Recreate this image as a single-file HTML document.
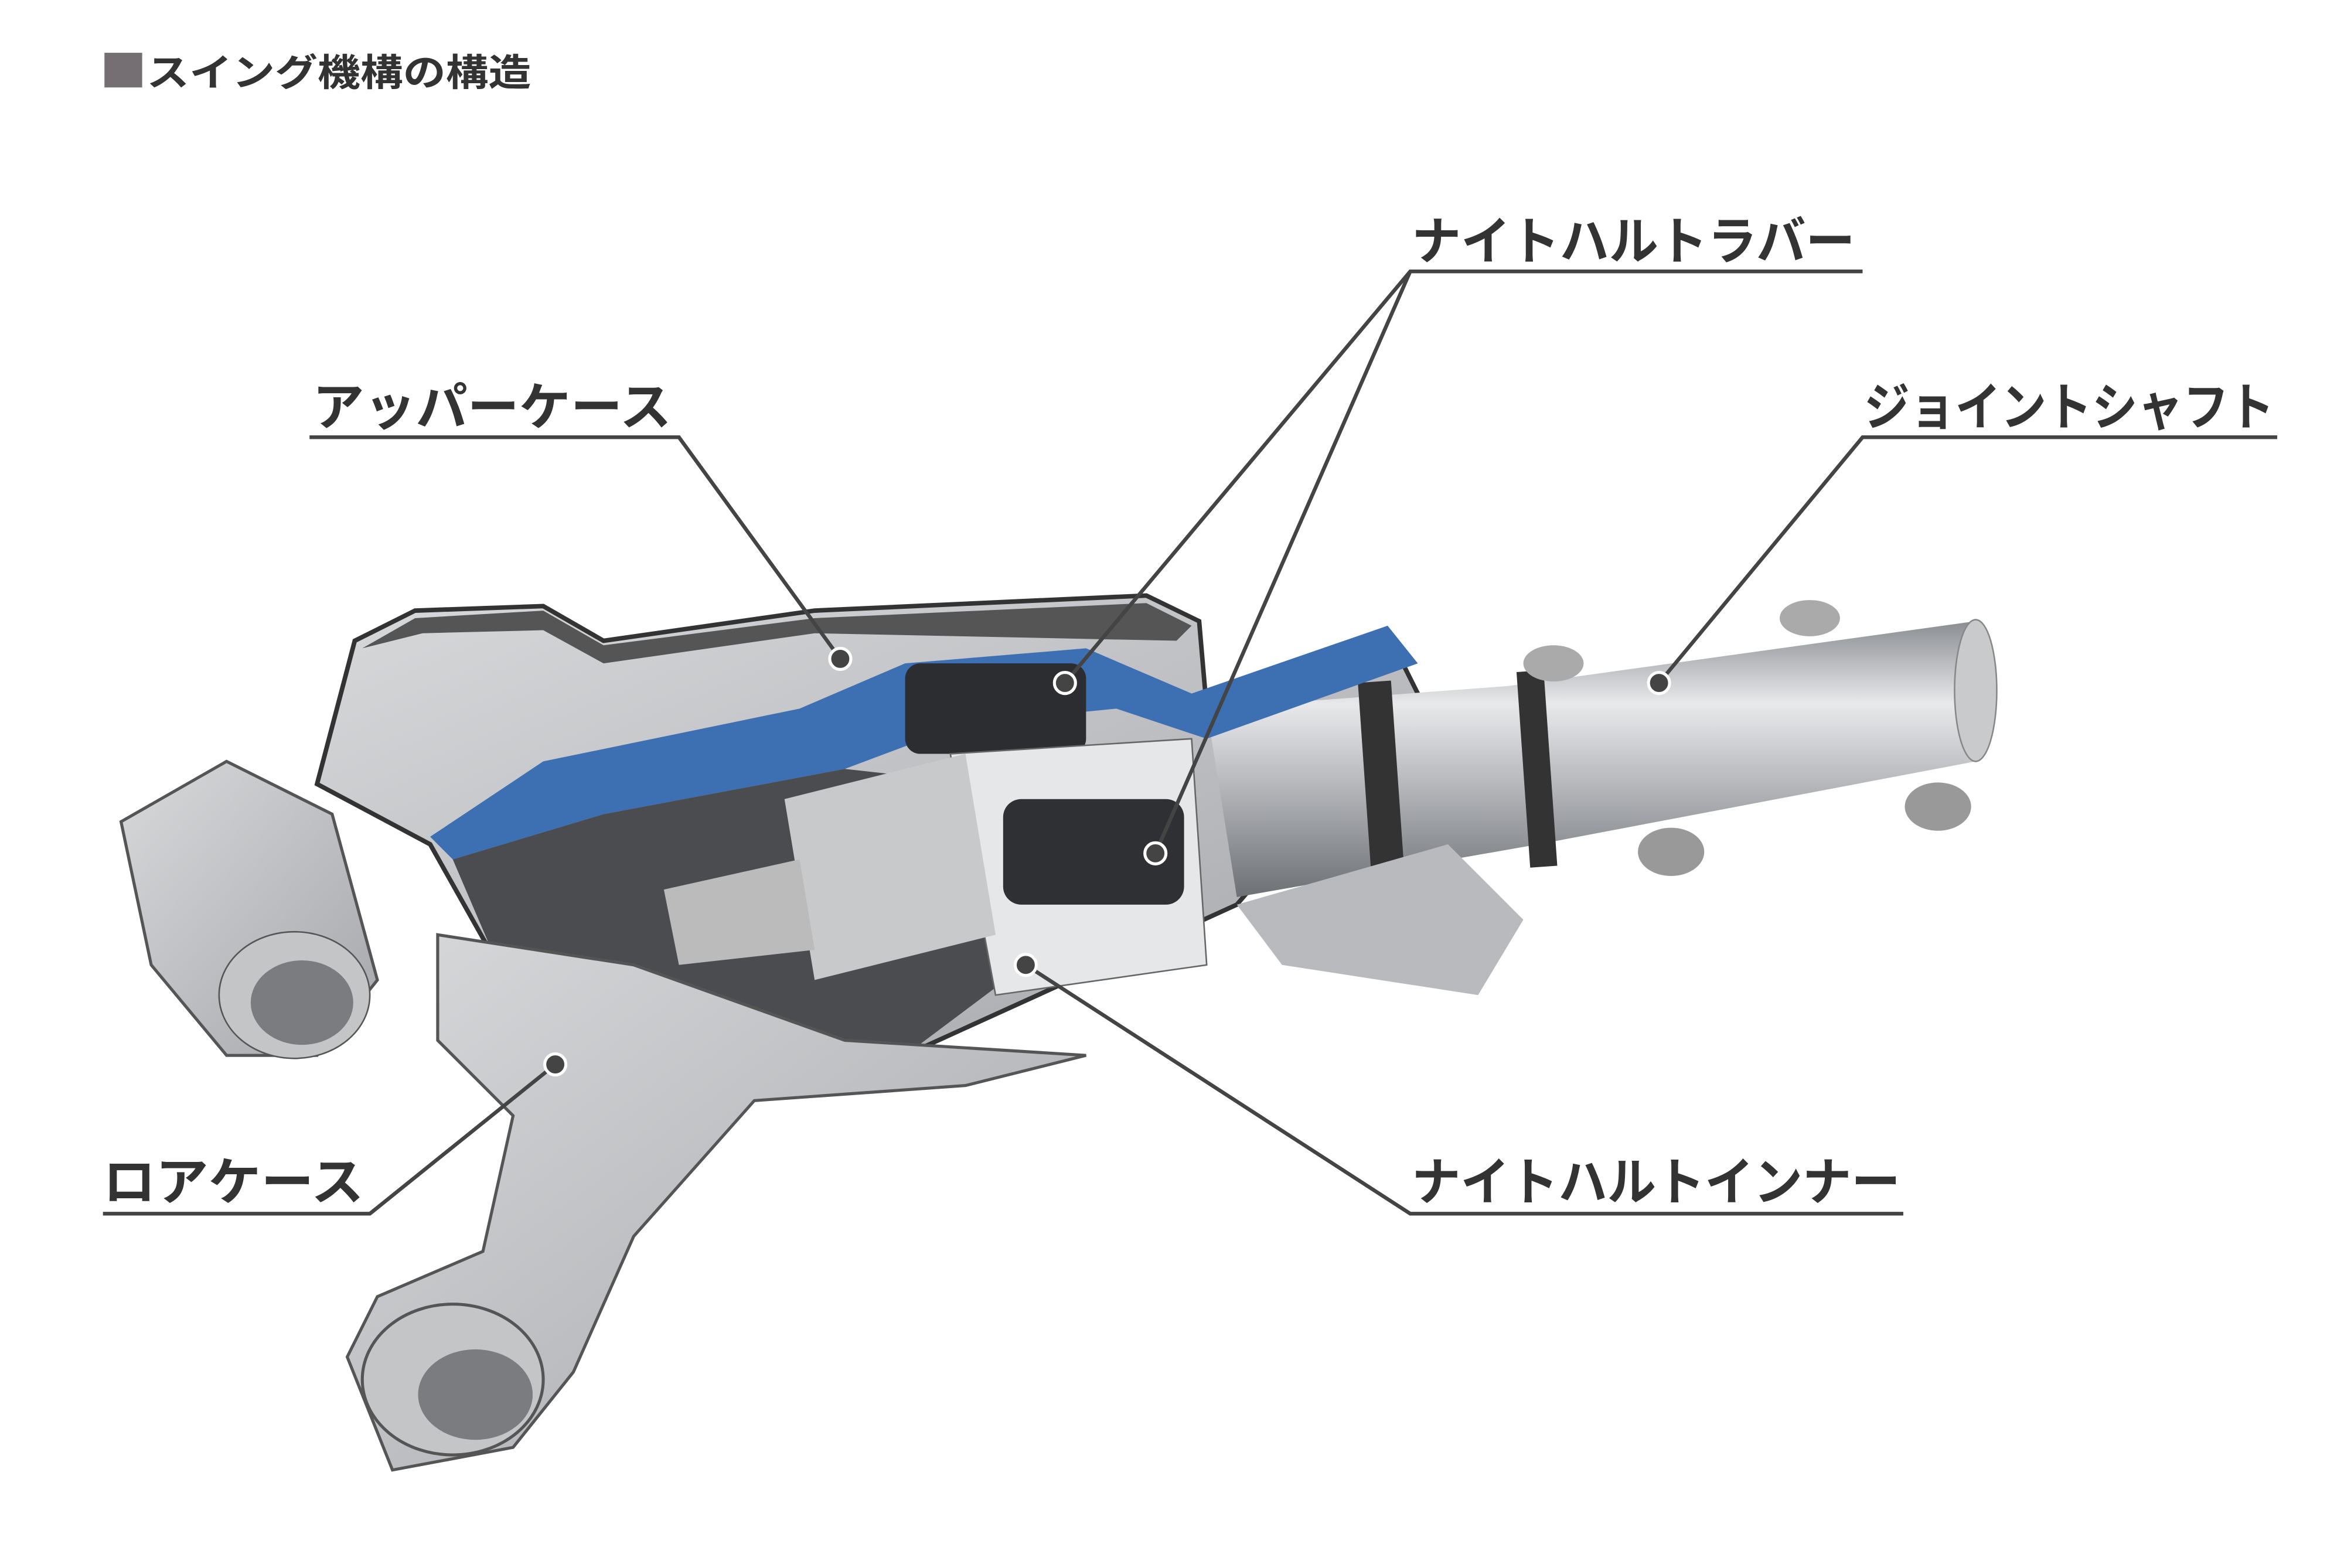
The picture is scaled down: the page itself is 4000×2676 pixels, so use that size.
<!DOCTYPE html>
<html><head><meta charset="utf-8"><style>
html,body{margin:0;padding:0;background:#fff;}
svg{display:block;}
text{font-family:"Liberation Sans","Noto Sans CJK JP",sans-serif;font-weight:bold;fill:#333;}
</style></head><body>
<svg width="4000" height="2676" viewBox="0 0 1554 1040" xmlns="http://www.w3.org/2000/svg">
<defs>
<linearGradient id="sh" x1="0" y1="0" x2="0" y2="1">
<stop offset="0" stop-color="#8a8d92"/><stop offset="0.3" stop-color="#e8e9eb"/><stop offset="0.6" stop-color="#b4b6ba"/><stop offset="1" stop-color="#6d7075"/>
</linearGradient>
<linearGradient id="cs" x1="0" y1="0" x2="1" y2="1">
<stop offset="0" stop-color="#d8d9db"/><stop offset="1" stop-color="#a4a6aa"/>
</linearGradient>
</defs>
<rect width="1554" height="1040" fill="#fff"/>
<rect x="69" y="35" width="25" height="23" fill="#756f74"/>
<text x="97" y="57" font-size="25" textLength="255" lengthAdjust="spacingAndGlyphs">スイング機構の構造</text>

<!-- upper case -->
<path d="M210,520 L235,425 L275,405 L360,402 L400,425 L540,405 L760,395 L795,412 L800,470 L920,420 L940,460 L820,600 L600,700 L330,640 L285,560 Z" fill="url(#cs)" stroke="#333" stroke-width="3"/>
<path d="M240,430 L275,410 L360,405 L400,428 L540,410 L760,400 L790,415 L780,425 L540,420 L400,440 L360,418 L280,420 Z" fill="#555"/>
<!-- shaft -->
<path d="M800,470 L1000,455 L1310,412 L1310,505 L1020,560 L820,595 Z" fill="url(#sh)"/>
<ellipse cx="1310" cy="458" rx="14" ry="47" fill="#c9cacc" stroke="#888"/>
<rect x="905" y="452" width="22" height="140" fill="#333" transform="rotate(-4 916 520)"/>
<rect x="1010" y="445" width="18" height="130" fill="#333" transform="rotate(-4 1019 510)"/>
<ellipse cx="1200" cy="410" rx="20" ry="12" fill="#aaa"/>
<ellipse cx="1285" cy="535" rx="22" ry="16" fill="#999"/>
<ellipse cx="1108" cy="565" rx="22" ry="16" fill="#999"/>
<ellipse cx="1030" cy="440" rx="20" ry="12" fill="#aaa"/>
<!-- right flange -->
<path d="M820,600 L960,560 L1010,610 L980,660 L850,640 Z" fill="#b8babd"/>
<!-- blue cutaway -->
<path d="M285,555 L360,505 L530,470 L600,440 L720,430 L790,460 L920,415 L940,440 L800,490 L740,470 L640,480 L560,510 L400,540 L300,570 Z" fill="#3d6fb3"/>
<!-- interior -->
<path d="M300,570 L400,540 L560,510 L650,520 L680,640 L600,700 L480,690 L330,640 Z" fill="#4a4c50"/>
<rect x="600" y="440" width="120" height="60" rx="10" fill="#2c2d30"/>
<path d="M630,500 L790,490 L800,640 L660,660 Z" fill="#e6e7e9" stroke="#666"/>
<rect x="665" y="530" width="120" height="70" rx="12" fill="#2f3033"/>
<path d="M520,530 L640,500 L660,620 L540,650 Z" fill="#c8c9cb"/>
<path d="M440,590 L530,570 L540,630 L450,640 Z" fill="#bbb"/>
<!-- lower case -->
<path d="M290,620 L420,640 L560,690 L720,700 L640,720 L500,730 L420,820 L380,910 L340,960 L260,975 L230,900 L250,860 L320,830 L340,740 L290,690 Z" fill="url(#cs)" stroke="#555" stroke-width="2"/>
<ellipse cx="300" cy="915" rx="60" ry="50" fill="#c4c5c7" stroke="#555" stroke-width="2"/>
<ellipse cx="315" cy="925" rx="38" ry="30" fill="#7a7c80"/>
<!-- left lug -->
<path d="M80,545 L150,505 L220,540 L250,650 L210,700 L150,700 L100,640 Z" fill="url(#cs)" stroke="#555" stroke-width="2"/>
<ellipse cx="195" cy="660" rx="50" ry="42" fill="#c4c5c7" stroke="#555"/>
<ellipse cx="200" cy="665" rx="34" ry="28" fill="#7a7c80"/>

<g stroke="#444" stroke-width="2.5" fill="none">
<polyline points="205,290 450,290 557,437"/>
<polyline points="1235,180 935,180 706,453"/>
<line x1="935" y1="180" x2="766" y2="566"/>
<polyline points="1510,290 1235,290 1100,453"/>
<polyline points="68,805 245,805 368,706"/>
<polyline points="1262,805 935,805 680,640"/>
</g>
<g fill="#444" stroke="#fff" stroke-width="2">
<circle cx="557" cy="437" r="7"/><circle cx="706" cy="453" r="7"/><circle cx="766" cy="566" r="7"/>
<circle cx="1100" cy="453" r="7"/><circle cx="368" cy="706" r="7"/><circle cx="680" cy="640" r="7"/>
</g>
<g font-size="34">
<text x="936" y="172" textLength="294" lengthAdjust="spacingAndGlyphs">ナイトハルトラバー</text>
<text x="207" y="282" textLength="238" lengthAdjust="spacingAndGlyphs">アッパーケース</text>
<text x="1236" y="282" textLength="272" lengthAdjust="spacingAndGlyphs">ジョイントシャフト</text>
<text x="68" y="796" textLength="173" lengthAdjust="spacingAndGlyphs">ロアケース</text>
<text x="936" y="796" textLength="324" lengthAdjust="spacingAndGlyphs">ナイトハルトインナー</text>
</g>
</svg>
</body></html>
